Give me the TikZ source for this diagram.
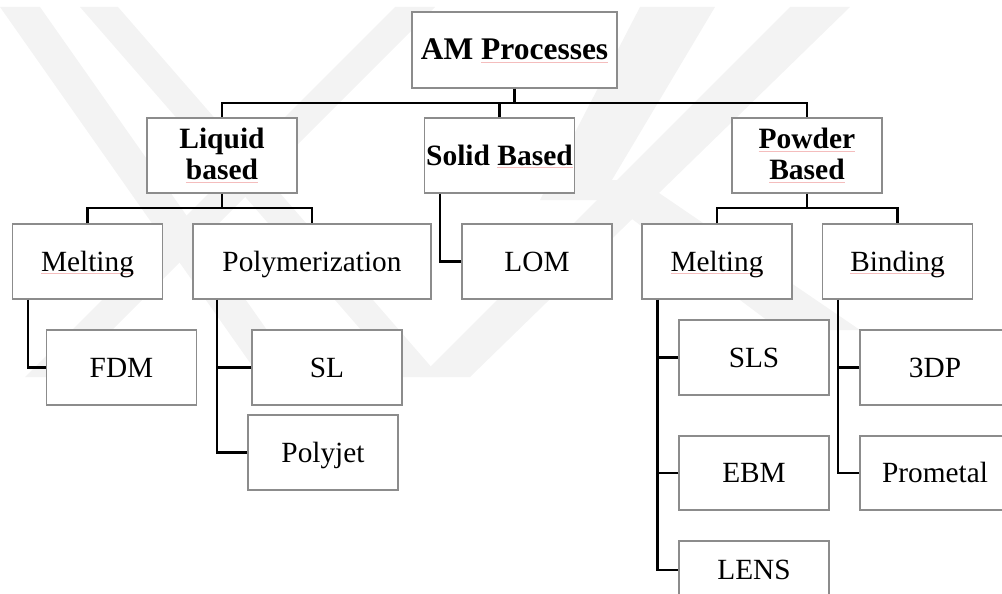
\documentclass[tikz,border=0pt]{standalone}
\usepackage{fontspec}
\setmainfont{Liberation Serif}
\definecolor{boxgray}{HTML}{8C8C8C}
\definecolor{wm}{HTML}{F3F3F3}
\definecolor{sqcol}{HTML}{F4BDBD}
\newcommand\sqg[1]{\setbox0\hbox{#1}\rlap{\textcolor{sqcol}{\rule[-3pt]{\wd0}{0.8pt}}}\box0}
\begin{document}
\begin{tikzpicture}[x=1pt,y=-1pt,
  box/.style={draw=boxgray, line width=1.3pt, fill=white, minimum width=150pt,
    minimum height=75pt, inner sep=0pt, align=center,
    font=\fontsize{29.3}{31}\selectfont},
  oneline/.style={text height=22pt, text depth=3pt},
  bbox/.style={box, font=\fontsize{29.5}{31.5}\selectfont\bfseries},
  link/.style={draw=black, line width=2.4pt}]
\useasboundingbox (0,0) rectangle (1002,594);
% watermark
\fill[wm] (0,7) -- (40,7) -- (300,377) -- (260,377) -- cycle;
\fill[wm] (80,7) -- (118,7) -- (440,377) -- (402,377) -- cycle;
\fill[wm] (395,7) -- (435,7) -- (65,377) -- (25,377) -- cycle;
\fill[wm] (790,7) -- (850,7) -- (470,377) -- (420,377) -- cycle;
\fill[wm] (640,7) -- (715,7) -- (600,200) -- (540,200) -- cycle;
\fill[wm] (580,180) -- (640,180) -- (860,330) -- (780,330) -- cycle;
% nodes
\node[bbox, oneline, minimum width=205pt, minimum height=76pt,
  font=\fontsize{31.5}{33}\selectfont\bfseries] (am) at (514.5,50) {AM \sqg{Processes}};
\node[bbox] (liq) at (222,155.5) {Liquid\\\sqg{based}};
\node[bbox, oneline] (sol) at (499.5,155.5) {Solid \sqg{Based}};
\node[bbox] (pow) at (807,155.5) {\sqg{Powder}\\\sqg{Based}};
\node[box, oneline] (mel1) at (87.5,261.5) {\sqg{Melting}};
\node[box, oneline, minimum width=238pt] (poly) at (312,261.5) {Polymerization};
\node[box, oneline] (lom) at (537,261.5) {LOM};
\node[box, oneline] (mel2) at (717,261.5) {\sqg{Melting}};
\node[box, oneline] (bind) at (897.5,261.5) {\sqg{Binding}};
\node[box, oneline] (fdm) at (121.5,367.5) {FDM};
\node[box, oneline] (sl) at (327,367.5) {SL};
\node[box, oneline] (pj) at (323,452.5) {Polyjet};
\node[box, oneline] (sls) at (754,357.5) {SLS};
\node[box, oneline, minimum height=74pt] (ebm) at (754,473) {EBM};
\node[box, oneline, minimum height=58pt] (lens) at (754,570) {LENS};
\node[box, oneline] (tdp) at (935,367.5) {3DP};
\node[box, oneline, minimum height=74pt] (prom) at (935,473) {Prometal};
% helper coordinates
\coordinate (bus1) at (514.5,103);
\coordinate (bus2) at (222,208);
\coordinate (bus3) at (807,208);
\coordinate (solx) at (440,0);
\coordinate (m1x) at (28,0);
\coordinate (px) at (217,0);
\coordinate (m2x) at (657.5,0);
\coordinate (bx) at (838,0);
% connectors
\draw[link] (am.south) -- (bus1);
\draw[link] (liq.north) -- (liq.north |- bus1) -- (pow.north |- bus1) -- (pow.north);
\draw[link] (sol.north) -- (sol.north |- bus1);
\draw[link] (liq.south) -- (bus2);
\draw[link] (mel1.north) -- (mel1.north |- bus2) -- (poly.north |- bus2) -- (poly.north);
\draw[link] (pow.south) -- (bus3);
\draw[link] (mel2.north) -- (mel2.north |- bus3) -- (bind.north |- bus3) -- (bind.north);
\draw[link] (sol.south -| solx) |- (lom.west);
\draw[link] (mel1.south -| m1x) |- (fdm.west);
\draw[link] (poly.south -| px) |- (pj.west);
\draw[link] (sl.west) -- (sl.west -| px);
\draw[link] (mel2.south -| m2x) |- (lens.west);
\draw[link] (sls.west) -- (sls.west -| m2x);
\draw[link] (ebm.west) -- (ebm.west -| m2x);
\draw[link] (bind.south -| bx) |- (prom.west);
\draw[link] (tdp.west) -- (tdp.west -| bx);
\end{tikzpicture}
\end{document}
